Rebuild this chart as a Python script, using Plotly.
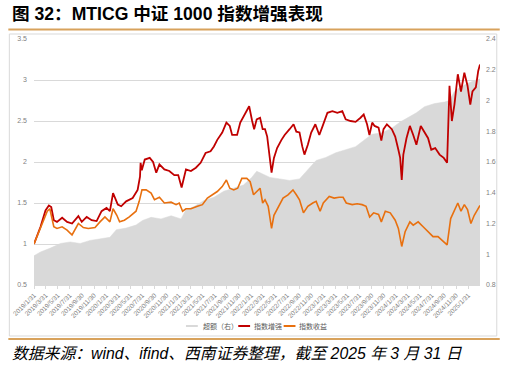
import plotly.graph_objects as go
import pandas as pd

# ---------------- data ----------------
excess_dates = [
    "2019-01-31", "2019-03-05", "2019-04-24", "2019-06-13", "2019-08-02", "2019-09-21",
    "2019-11-10", "2019-12-30", "2020-02-18", "2020-03-22", "2020-05-10", "2020-06-29",
    "2020-08-01", "2020-09-13", "2020-11-02", "2020-12-23", "2021-02-11", "2021-03-08",
    "2021-04-18", "2021-06-07", "2021-07-27", "2021-09-15", "2021-11-04", "2021-12-23",
    "2022-02-03", "2022-02-28", "2022-03-17", "2022-05-06", "2022-06-25", "2022-08-13",
    "2022-10-02", "2022-11-05", "2022-12-25", "2023-02-12", "2023-04-03", "2023-05-23",
    "2023-07-12", "2023-08-22", "2023-10-03", "2023-11-22", "2024-01-11", "2024-02-22",
    "2024-04-03", "2024-05-14", "2024-06-24", "2024-08-14", "2024-10-03", "2024-10-28",
    "2024-11-22", "2024-12-25", "2025-01-27", "2025-03-02", "2025-03-31",
]
excess_vals = [
    0.99, 1.015, 1.04, 1.07, 1.08, 1.07,
    1.09, 1.10, 1.11, 1.16, 1.17, 1.19,
    1.22, 1.24, 1.23, 1.25, 1.23, 1.29,
    1.31, 1.35, 1.37, 1.41, 1.43, 1.45,
    1.50, 1.54, 1.53, 1.50, 1.49, 1.48,
    1.49, 1.54, 1.61, 1.63, 1.66, 1.68,
    1.70, 1.74, 1.78, 1.79, 1.82, 1.86,
    1.89, 1.92, 1.96, 1.98, 1.99, 2.00,
    2.06, 2.09, 2.11, 2.13, 2.14,
]

enh_dates = [
    "2019-01-31", "2019-03-05", "2019-03-30", "2019-04-16", "2019-04-28", "2019-05-11",
    "2019-05-27", "2019-06-22", "2019-07-17", "2019-08-11", "2019-09-12", "2019-09-29",
    "2019-10-24", "2019-11-18", "2019-12-13", "2020-01-07", "2020-02-01", "2020-02-18",
    "2020-03-05", "2020-03-19", "2020-03-29", "2020-04-15", "2020-05-10", "2020-06-12",
    "2020-07-07", "2020-07-19", "2020-07-22", "2020-07-28", "2020-08-12", "2020-09-06",
    "2020-09-23", "2020-10-09", "2020-10-25", "2020-11-19", "2020-12-14", "2021-01-08",
    "2021-01-28", "2021-02-14", "2021-03-08", "2021-04-02", "2021-04-27", "2021-05-21",
    "2021-06-15", "2021-07-10", "2021-07-27", "2021-08-13", "2021-09-07", "2021-09-28",
    "2021-10-15", "2021-10-27", "2021-11-21", "2021-12-07", "2022-01-01", "2022-01-21",
    "2022-02-05", "2022-02-15", "2022-02-28", "2022-03-17", "2022-03-30", "2022-04-11",
    "2022-04-22", "2022-05-02", "2022-05-14", "2022-05-26", "2022-06-11", "2022-07-03",
    "2022-07-19", "2022-08-13", "2022-09-02", "2022-09-16", "2022-10-02", "2022-10-16",
    "2022-10-27", "2022-11-13", "2022-11-30", "2022-12-21", "2023-01-10", "2023-01-27",
    "2023-02-20", "2023-03-17", "2023-04-11", "2023-05-06", "2023-05-23", "2023-06-17",
    "2023-07-12", "2023-08-06", "2023-08-22", "2023-09-08", "2023-09-20", "2023-10-04",
    "2023-10-16", "2023-11-05", "2023-11-19", "2023-11-30", "2023-12-17", "2024-01-11",
    "2024-01-28", "2024-02-13", "2024-02-22", "2024-03-01", "2024-03-09", "2024-03-25",
    "2024-04-11", "2024-04-28", "2024-05-14", "2024-06-05", "2024-06-25", "2024-07-12",
    "2024-07-28", "2024-08-17", "2024-09-08", "2024-09-29", "2024-10-16", "2024-10-28",
    "2024-11-09", "2024-11-22", "2024-12-09", "2024-12-25", "2025-01-11", "2025-01-27",
    "2025-02-10", "2025-02-21", "2025-03-10", "2025-03-22", "2025-03-31",
]
enh_vals = [
    1.00, 1.21, 1.41, 1.47, 1.45, 1.29,
    1.27, 1.32, 1.27, 1.25, 1.34, 1.27,
    1.33, 1.29, 1.28, 1.40, 1.44, 1.40,
    1.62, 1.55, 1.48, 1.46, 1.52, 1.56,
    1.66, 1.82, 1.99, 1.90, 2.03, 2.05,
    2.00, 1.87, 1.97, 1.91, 1.89, 1.84,
    1.84, 1.69, 1.91, 1.89, 1.93, 1.99,
    2.11, 2.13, 2.19, 2.27, 2.36, 2.48,
    2.44, 2.33, 2.33, 2.48, 2.60, 2.68,
    2.50, 2.40, 2.52, 2.54, 2.40, 2.40,
    2.31, 2.11, 1.87, 2.05, 2.17, 2.27,
    2.33, 2.40, 2.46, 2.37, 2.36, 2.19,
    2.09, 2.21, 2.36, 2.46, 2.33, 2.44,
    2.60, 2.62, 2.60, 2.62, 2.52, 2.50,
    2.49, 2.54, 2.58, 2.46, 2.33, 2.48,
    2.44, 2.42, 2.26, 2.40, 2.46, 2.40,
    2.31, 2.15, 2.05, 1.78, 2.09, 2.29,
    2.44, 2.33, 2.21, 2.44, 2.36, 2.29,
    2.15, 2.17, 2.09, 2.05, 1.99, 2.93,
    2.50, 2.70, 3.07, 2.86, 3.09, 2.93,
    2.70, 2.86, 2.91, 3.11, 3.19,
]

idx_dates = [
    "2019-01-31", "2019-03-05", "2019-04-08", "2019-04-21", "2019-05-11", "2019-05-27",
    "2019-06-22", "2019-07-17", "2019-08-11", "2019-09-12", "2019-10-07", "2019-11-01",
    "2019-12-05", "2019-12-30", "2020-01-24", "2020-02-18", "2020-03-05", "2020-03-24",
    "2020-04-07", "2020-05-01", "2020-05-26", "2020-06-29", "2020-07-15", "2020-07-29",
    "2020-08-19", "2020-09-13", "2020-09-30", "2020-10-25", "2020-11-19", "2020-12-23",
    "2021-01-17", "2021-02-02", "2021-02-19", "2021-03-08", "2021-04-02", "2021-05-05",
    "2021-05-30", "2021-06-24", "2021-07-19", "2021-08-13", "2021-09-07", "2021-09-28",
    "2021-10-15", "2021-11-04", "2021-11-24", "2021-12-15", "2022-01-09", "2022-01-26",
    "2022-02-12", "2022-02-28", "2022-03-17", "2022-03-30", "2022-04-11", "2022-04-27",
    "2022-05-14", "2022-05-26", "2022-06-16", "2022-07-11", "2022-08-05", "2022-08-30",
    "2022-09-16", "2022-10-02", "2022-10-22", "2022-11-13", "2022-12-08", "2022-12-25",
    "2023-01-14", "2023-01-30", "2023-03-01", "2023-03-26", "2023-04-20", "2023-05-10",
    "2023-05-26", "2023-06-25", "2023-07-20", "2023-08-14", "2023-09-03", "2023-09-21",
    "2023-10-11", "2023-11-05", "2023-11-19", "2023-12-09", "2024-01-03", "2024-01-28",
    "2024-02-13", "2024-03-01", "2024-03-18", "2024-04-11", "2024-04-28", "2024-05-23",
    "2024-06-17", "2024-07-12", "2024-08-06", "2024-08-31", "2024-09-25", "2024-10-16",
    "2024-11-03", "2024-11-22", "2024-12-09", "2024-12-25", "2025-01-11", "2025-01-27",
    "2025-02-13", "2025-03-02", "2025-03-18", "2025-03-31",
]
idx_vals = [
    1.00, 1.19, 1.40, 1.43, 1.21, 1.19,
    1.21, 1.17, 1.11, 1.25, 1.20, 1.19,
    1.20, 1.27, 1.33, 1.27, 1.43, 1.35,
    1.27, 1.29, 1.33, 1.40, 1.52, 1.66,
    1.66, 1.62, 1.54, 1.57, 1.50, 1.51,
    1.48, 1.50, 1.40, 1.43, 1.43, 1.46,
    1.48, 1.56, 1.60, 1.64, 1.70, 1.78,
    1.68, 1.66, 1.68, 1.80, 1.80, 1.76,
    1.60, 1.64, 1.68, 1.50, 1.54, 1.46,
    1.19, 1.35, 1.44, 1.56, 1.60, 1.66,
    1.60, 1.54, 1.38, 1.46, 1.50, 1.52,
    1.40, 1.50, 1.58, 1.56, 1.57, 1.57,
    1.50, 1.48, 1.49, 1.48, 1.46, 1.33,
    1.38, 1.36, 1.27, 1.40, 1.38, 1.29,
    1.19, 0.97, 1.15, 1.27, 1.23, 1.27,
    1.21, 1.15, 1.09, 1.09, 1.03, 0.99,
    1.31, 1.40, 1.50, 1.40, 1.48, 1.42,
    1.25, 1.35, 1.42, 1.47,
]

tick_labels = [
    "2019/1/31", "2019/3/31", "2019/5/31", "2019/7/31", "2019/9/30", "2019/11/30",
    "2020/1/31", "2020/3/31", "2020/5/31", "2020/7/31", "2020/9/30", "2020/11/30",
    "2021/1/31", "2021/3/31", "2021/5/31", "2021/7/31", "2021/9/30", "2021/11/30",
    "2022/1/31", "2022/3/31", "2022/5/31", "2022/7/31", "2022/9/30", "2022/11/30",
    "2023/1/31", "2023/3/31", "2023/5/31", "2023/7/31", "2023/9/30", "2023/11/30",
    "2024/1/31", "2024/3/31", "2024/5/31", "2024/7/31", "2024/9/30", "2024/11/30",
    "2025/1/31",
]
left_ticks = [0.5, 1.0, 1.5, 2.0, 2.5, 3.0, 3.5]
right_ticks = [0.8, 1.0, 1.2, 1.4, 1.6, 1.8, 2.0, 2.2, 2.4]

series_names = ["超额（右）", "指数增强", "指数收益"]
title_text = "图 32：MTICG 中证 1000 指数增强表现"
source_text = "数据来源：wind、ifind、西南证券整理，截至 2025 年 3 月 31 日"

# ---------------- layout constants ----------------
W, H = 508, 370
ML, MR, MT, MB = 31, 25, 39, 85
PW, PH = W - ML - MR, H - MT - MB

def px(X):
    return (X - ML) / PW

def py(Y):
    return (H - MB - Y) / PH

C_GRAY = "#D9D9D9"
C_RED = "#C00000"
C_ORANGE = "#E8700F"
C_GOLD = "#D8A25C"
C_TICK = "#7F7F7F"
FONT = "Liberation Sans, Arial, Noto Sans CJK SC, sans-serif"
CJK = "Noto Sans CJK SC, sans-serif"

tick_vals = pd.to_datetime(tick_labels, format="%Y/%m/%d")

fig = go.Figure()
fig.add_trace(go.Scatter(
    x=pd.to_datetime(excess_dates), y=excess_vals, name=series_names[0],
    mode="lines", fill="tozeroy", fillcolor=C_GRAY,
    line=dict(color=C_GRAY, width=0.5), yaxis="y", showlegend=False,
))
fig.add_trace(go.Scatter(
    x=pd.to_datetime(enh_dates), y=enh_vals, name=series_names[1],
    mode="lines", line=dict(color=C_RED, width=1.8), yaxis="y2", showlegend=False,
))
fig.add_trace(go.Scatter(
    x=pd.to_datetime(idx_dates), y=idx_vals, name=series_names[2],
    mode="lines", line=dict(color=C_ORANGE, width=1.6), yaxis="y2", showlegend=False,
))

fig.update_layout(
    width=W, height=H, autosize=False,
    margin=dict(l=ML, r=MR, t=MT, b=MB, pad=0),
    paper_bgcolor="white", plot_bgcolor="white",
    font=dict(family=FONT, size=7, color=C_TICK),
    xaxis=dict(
        type="date", range=[enh_dates[0], enh_dates[-1]],
        tickvals=tick_vals, ticktext=tick_labels, tickangle=-45,
        tickfont=dict(size=6.5, color=C_TICK),
        ticks="outside", ticklen=3, tickcolor=C_GRAY,
        showgrid=False, showline=True, linecolor=C_GRAY, linewidth=1,
        zeroline=False,
    ),
    yaxis=dict(
        side="right", range=[right_ticks[0], right_ticks[-1]],
        tickvals=right_ticks, ticktext=[f"{v:g}" for v in right_ticks],
        tickfont=dict(size=7, color=C_TICK), showgrid=False, zeroline=False,
        showline=False, ticks="", ticklabelstandoff=5,
    ),
    yaxis2=dict(
        overlaying="y", side="left", range=[left_ticks[0], left_ticks[-1]],
        tickvals=left_ticks, ticktext=[f"{v:g}" for v in left_ticks],
        tickfont=dict(size=7, color=C_TICK), showgrid=True, gridcolor=C_GRAY,
        gridwidth=1, zeroline=False, showline=False, ticks="", ticklabelstandoff=6,
    ),
)

shapes = [
    # gold rule under the title
    dict(type="line", xref="paper", yref="paper", x0=px(5), x1=px(503), y0=py(29.5), y1=py(29.5),
         line=dict(color=C_GOLD, width=2)),
    # light frame around the chart
    dict(type="rect", xref="paper", yref="paper", x0=px(6), x1=px(500), y0=py(34), y1=py(336),
         line=dict(color=C_GRAY, width=1), fillcolor="rgba(0,0,0,0)"),
    # gold rule above the source
    dict(type="line", xref="paper", yref="paper", x0=px(5), x1=px(503), y0=py(339), y1=py(339),
         line=dict(color=C_GOLD, width=2)),
]
# legend keys
leg_y = py(326)
leg_items = [(185, 200, C_GRAY), (238, 252, C_RED), (284, 298, C_ORANGE)]
annotations = []
for (x0, xt, col), name in zip(leg_items, series_names):
    shapes.append(dict(type="line", xref="paper", yref="paper", x0=px(x0), x1=px(x0 + 12),
                       y0=leg_y, y1=leg_y, line=dict(color=col, width=2)))
    annotations.append(dict(xref="paper", yref="paper", x=px(xt), y=leg_y, text=name,
                            showarrow=False, xanchor="left", yanchor="middle",
                            font=dict(family=CJK, size=7, color="#595959")))

annotations.append(dict(xref="paper", yref="paper", x=px(7), y=py(14), text=f"<b>{title_text}</b>",
                        showarrow=False, xanchor="left", yanchor="middle",
                        font=dict(family=FONT, size=17.6, color="#000000")))
annotations.append(dict(xref="paper", yref="paper", x=px(7), y=py(353), text=f"<i>{source_text}</i>",
                        showarrow=False, xanchor="left", yanchor="middle",
                        font=dict(family=FONT, size=15.8, color="#000000")))

fig.update_layout(shapes=shapes, annotations=annotations)

fig.write_html("out.html", include_plotlyjs=True, config={"displayModeBar": False},
               post_script="document.body.style.margin='0';document.body.style.overflow='hidden';")
